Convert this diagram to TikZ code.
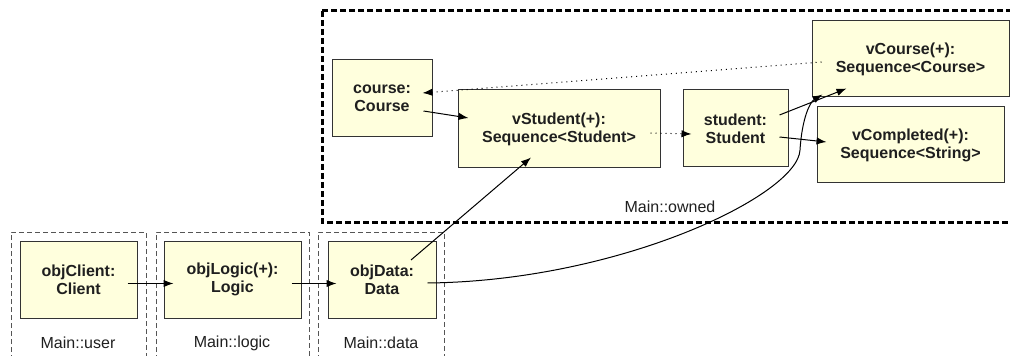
\documentclass[tikz,border=0pt]{standalone}
\usepackage{fontspec}
\setmainfont{Liberation Sans}
\usetikzlibrary{arrows.meta,calc}

\definecolor{objfill}{RGB}{255,255,221}
\definecolor{objline}{RGB}{51,51,51}
\definecolor{partline}{RGB}{85,85,85}

\tikzset{
  objbox/.style={draw=objline,fill=objfill,line width=0.75pt,inner sep=0pt,align=center,
    font=\fontsize{12}{13.5}\selectfont\bfseries,text=black!88},
  partbox/.style={draw=partline,line width=0.75pt,dash pattern=on 3.75pt off 2.25pt},
  ownedbox/.style={draw=black,line width=2.25pt,dash pattern=on 4.5pt off 2.25pt},
  partlabel/.style={inner sep=0.75pt,font=\fontsize{12}{13.5}\selectfont,text=black!88},
  flow/.style={line width=0.75pt,-{Latex[length=7.5pt,width=5.5pt]}},
  weak/.style={flow,dash pattern=on 0.75pt off 3pt}
}

\begin{document}
\begin{tikzpicture}[x=0.75pt,y=0.75pt,yscale=-1,xscale=1]
%set diagram left start at 0, and has height of 356
\path[use as bounding box] (0,0) rectangle (1010,356);
\clip (0,0) rectangle (1010,356);

%Shape: Rectangle [owned]
\draw[ownedbox] (322,11) rectangle (1014,222);
%Shape: Rectangle [user]
\draw[partbox] (11,360) -- (11,232) -- (146,232) -- (146,360);
%Shape: Rectangle [logic]
\draw[partbox] (156,360) -- (156,232) -- (309,232) -- (309,360);
%Shape: Rectangle [data]
\draw[partbox] (318,360) -- (318,232) -- (444,232) -- (444,360);

% Text Node
\node[partlabel] (ownedlbl) at (670,207) {Main::owned};
% Text Node
\node[partlabel] (userlbl) at (78,343) {Main::user};
% Text Node
\node[partlabel] (logiclbl) at (232,343) {Main::logic};
% Text Node
\node[partlabel] (datalbl) at (381,343) {Main::data};

%Objects
\node[objbox,minimum width=75pt,minimum height=57.75pt] (course) at (382,98.5) {course:\\Course};
\node[objbox,minimum width=151.5pt,minimum height=58.5pt] (vStudent) at (559,129) {vStudent(+):\\Sequence<Student>};
\node[objbox,minimum width=78.75pt,minimum height=57.75pt] (student) at (735.5,128.5) {student:\\Student};
\node[objbox,minimum width=147.75pt,minimum height=57pt] (vCourse) at (910.5,59) {vCourse(+):\\Sequence<Course>};
\node[objbox,minimum width=140.25pt,minimum height=57pt] (vCompleted) at (910.5,145) {vCompleted(+):\\Sequence<String>};
\node[objbox,minimum width=87.75pt,minimum height=57.75pt] (objClient) at (78.5,279.5) {objClient:\\Client};
\node[objbox,minimum width=102.75pt,minimum height=57.75pt] (objLogic) at (232.5,279.5) {objLogic(+):\\Logic};
\node[objbox,minimum width=81pt,minimum height=57.75pt] (objData) at (382,279.5) {objData:\\Data};

%Straight Lines
\draw[flow] ($(objClient.east)+(-10,4)$) -- ($(objLogic.west)+(10,4)$);
\draw[flow] ($(objLogic.east)+(-10,4)$) -- ($(objData.west)+(9,4)$);
\draw[flow] ($(objData.center)+(29,-19.5)$) -- ($(vStudent.south)+(-28,-11)$);
\draw[flow] ($(course.east)+(-9,12.5)$) -- ($(vStudent.west)+(11,-11)$);
\draw[flow] ($(student.east)+(-9,-13.5)$) -- ($(vCourse.south west)+(35,-9)$);
\draw[flow] ($(student.east)+(-9,8.5)$) -- ($(vCompleted.west)+(10,-3)$);
%Dotted Lines
\draw[weak] ($(vStudent.east)+(-10,4)$) -- ($(student.west)+(9,5.5)$);
\draw[weak] ($(vCourse.west)+(10,3)$) -- ($(course.east)+(-10,-5.5)$);
%Curve Lines
\draw[flow] ($(objData.east)+(-9,3.5)$) .. controls (620,281) and (798,195) .. (800,150)
  .. controls (802,118) and (810,102) .. ($(vCourse.south west)+(11,-3)$);

\end{tikzpicture}
\end{document}
